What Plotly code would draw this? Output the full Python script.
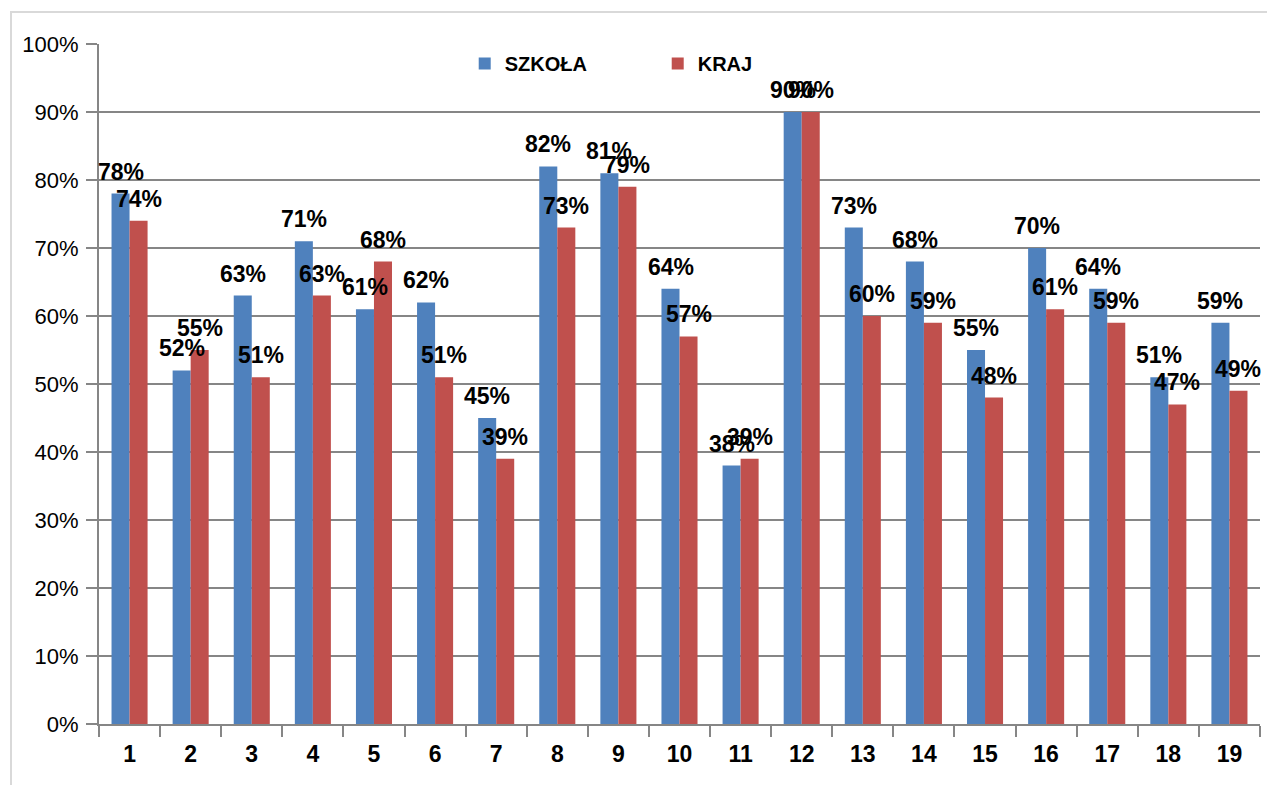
import plotly.graph_objects as go

categories = [str(i) for i in range(1, 20)]
szkola = [78, 52, 63, 71, 61, 62, 45, 82, 81, 64, 38, 90, 73, 68, 55, 70, 64, 51, 59]
kraj = [74, 55, 51, 63, 68, 51, 39, 73, 79, 57, 39, 90, 60, 59, 48, 61, 59, 47, 49]
y_ticks = list(range(0, 101, 10))
y_ticklabels = [f"{v}%" for v in y_ticks]

FONT = "Liberation Sans"
GRID = "#868686"

fig = go.Figure()
fig.add_trace(go.Bar(
    x=categories, y=szkola, name="SZKOŁA",
    marker=dict(color="#4F81BD", line=dict(width=0)),
    hovertemplate="%{x}: %{y}%<extra>SZKOŁA</extra>",
))
fig.add_trace(go.Bar(
    x=categories, y=kraj, name="KRAJ",
    marker=dict(color="#C0504D", line=dict(width=0)),
    hovertemplate="%{x}: %{y}%<extra>KRAJ</extra>",
))

annotations = []
for series, shift in ((szkola, -9), (kraj, 9)):
    for idx, val in enumerate(series):
        annotations.append(dict(
            x=idx, y=val, xref="x", yref="y",
            text=f"{val}%", showarrow=False,
            xanchor="center", yanchor="bottom",
            xshift=shift, yshift=7,
            font=dict(family=FONT, size=23, color="black", weight="bold"),
        ))

fig.update_layout(
    width=1275, height=785,
    margin=dict(l=91, r=23, t=36, b=69),
    paper_bgcolor="white", plot_bgcolor="white",
    barmode="group", bargap=0.41, bargroupgap=0,
    font=dict(family=FONT, color="black"),
    legend=dict(
        orientation="h", x=0.315, y=1.0, xanchor="left", yanchor="top",
        font=dict(family=FONT, size=20, color="black", weight="bold"),
        entrywidth=148, entrywidthmode="pixels",
        bgcolor="rgba(0,0,0,0)",
    ),
    xaxis=dict(
        type="category", categoryorder="array", categoryarray=categories,
        range=[-0.5, len(categories) - 0.5],
        tickson="boundaries", ticks="outside", ticklen=11,
        tickcolor=GRID, tickwidth=2,
        showline=True, linecolor=GRID, linewidth=2,
        tickfont=dict(family=FONT, size=23, color="black", weight="bold"),
        ticklabelstandoff=8,
        showgrid=False,
    ),
    yaxis=dict(
        range=[0, 100], tickvals=y_ticks, ticktext=y_ticklabels,
        ticks="outside", ticklen=11, tickcolor=GRID, tickwidth=2,
        showline=True, linecolor=GRID, linewidth=2,
        showgrid=True, gridcolor=GRID, gridwidth=2,
        zeroline=False, ticklabelstandoff=3,
        tickfont=dict(family=FONT, size=22, color="black"),
    ),
    annotations=annotations,
    shapes=[dict(
        type="rect", xref="paper", yref="paper",
        x0=-0.0758, x1=1.0103, y0=-0.2, y1=1.047,
        line=dict(color="#D9D9D9", width=2), fillcolor="rgba(0,0,0,0)",
    )],
)

fig.write_html("out.html")
